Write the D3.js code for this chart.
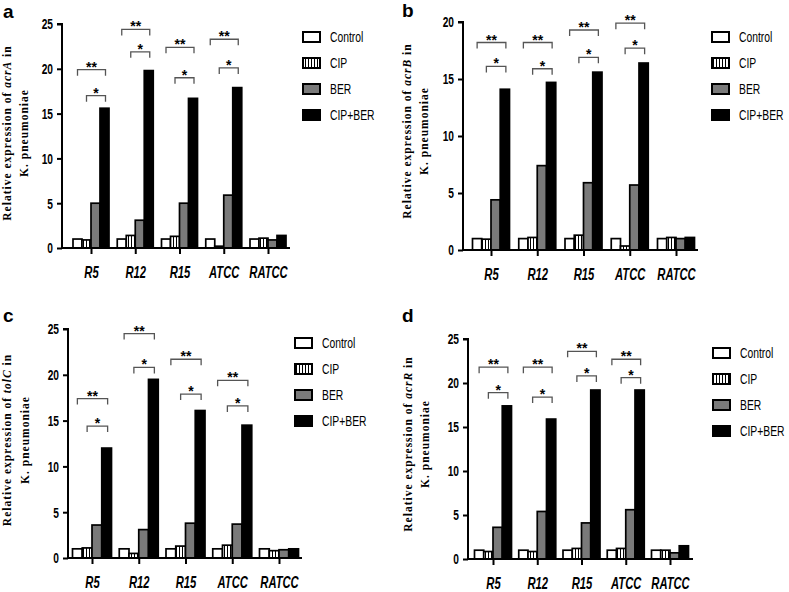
<!DOCTYPE html>
<html>
<head>
<meta charset="utf-8">
<script src="https://cdn.jsdelivr.net/npm/d3@7"></script>
<style>
  html, body { margin: 0; padding: 0; background: #fff; }
  svg { display: block; }
  .num { font-family: "Liberation Sans", Arial, sans-serif; font-weight: bold; fill: #000; }
  .star { font-family: "Liberation Sans", Arial, sans-serif; font-weight: bold; fill: #000; }
  .cat { font-family: "Liberation Sans", Arial, sans-serif; font-weight: bold; font-style: italic; fill: #000; }
  .leg { font-family: "Liberation Sans", Arial, sans-serif; fill: #000; }
  .ylab { font-family: "Liberation Serif", "DejaVu Serif", serif; font-weight: bold; fill: #000; }
  .letter { font-family: "Liberation Sans", Arial, sans-serif; font-weight: bold; fill: #000; }
</style>
</head>
<body>
<script>
// ---------- data ----------
const categories = ["R5", "R12", "R15", "ATCC", "RATCC"];
const seriesNames = ["Control", "CIP", "BER", "CIP+BER"];
const geneNames = ["acrA", "acrB", "tolC", "acrR"];
const panelLetters = ["a", "b", "c", "d"];
const yMaxes = [25, 20, 25, 25];
const yTickValues = [[0, 5, 10, 15, 20, 25], [0, 5, 10, 15, 20], [0, 5, 10, 15, 20, 25], [0, 5, 10, 15, 20, 25]];

// values per series (Control, CIP, BER, CIP+BER) for each category
const acrAValues = [
  [1.0, 1.0, 1.0, 1.0, 1.0],
  [0.9, 1.4, 1.3, 0.2, 1.1],
  [5.0, 3.1, 5.0, 5.9, 0.9],
  [15.6, 19.8, 16.7, 17.9, 1.4]
];
const acrBValues = [
  [1.0, 1.0, 1.0, 1.0, 1.0],
  [0.95, 1.1, 1.3, 0.35, 1.1],
  [4.4, 7.4, 5.9, 5.7, 1.0],
  [14.1, 14.7, 15.6, 16.4, 1.1]
];
const tolCValues = [
  [1.0, 1.0, 1.0, 1.0, 1.0],
  [1.1, 0.5, 1.3, 1.4, 0.8],
  [3.6, 3.1, 3.8, 3.7, 0.9],
  [12.0, 19.5, 16.1, 14.5, 1.0]
];
const acrRValues = [
  [1.0, 1.0, 1.0, 1.0, 1.0],
  [0.85, 0.85, 1.2, 1.2, 1.0],
  [3.6, 5.4, 4.1, 5.6, 0.7],
  [17.4, 15.9, 19.2, 19.2, 1.5]
];
// significance bracket heights (data units) for R5, R12, R15, ATCC
const acrADouble = [19.9, 24.4, 22.4, 23.3];
const acrASingle = [17.0, 21.9, 19.0, 20.1];
const acrBDouble = [18.2, 18.2, 19.3, 19.9];
const acrBSingle = [16.1, 15.9, 16.9, 17.7];
const tolCDouble = [17.4, 24.5, 21.7, 19.4];
const tolCSingle = [14.4, 20.8, 17.9, 16.6];
const acrRDouble = [21.8, 21.8, 23.6, 22.7];
const acrRSingle = [18.9, 18.4, 20.8, 20.6];

const panelValues = [acrAValues, acrBValues, tolCValues, acrRValues];
const panelDouble = [acrADouble, acrBDouble, tolCDouble, acrRDouble];
const panelSingle = [acrASingle, acrBSingle, tolCSingle, acrRSingle];

// ---------- layout ----------
const layouts = [
  {ox: 62, y0: 248, yTop: 24, xEnd: 290, c0: 91, c1: 268, gw: 36, legX: 303, legY: 37, lab1: 11, lab2: 28, labCY: 133, lx: 3, ly: 18},
  {ox: 463, y0: 250, yTop: 22, xEnd: 698, c0: 491, c1: 676, gw: 37, legX: 712, legY: 37, lab1: 411, lab2: 428, labCY: 131, lx: 402, ly: 17},
  {ox: 68, y0: 558, yTop: 329, xEnd: 302, c0: 92, c1: 279, gw: 39, legX: 295, legY: 343, lab1: 11, lab2: 29, labCY: 440, lx: 3, ly: 322},
  {ox: 468, y0: 559, yTop: 339, xEnd: 693, c0: 493, c1: 670, gw: 37, legX: 713, legY: 353, lab1: 412, lab2: 429, labCY: 444, lx: 402, ly: 322}
];
const fills = ["#ffffff", "url(#stripes)", "#7a7a7a", "#000000"];
const NUM_SQ = 0.68, CAT_SQ = 0.66, LEG_SQ = 0.74;

const svg = d3.select("body").append("svg").attr("width", 789).attr("height", 592);
const defs = svg.append("defs");
const pat = defs.append("pattern").attr("id", "stripes").attr("patternUnits", "userSpaceOnUse")
  .attr("width", 3).attr("height", 10);
pat.append("rect").attr("width", 3).attr("height", 10).attr("fill", "#fff");
pat.append("rect").attr("x", 2).attr("width", 1.1).attr("height", 10).attr("fill", "#000");

panelValues.forEach((vals, p) => {
  const L = layouts[p];
  const g = svg.append("g");
  const x = d3.scalePoint().domain(categories).range([L.c0, L.c1]);
  const xs = d3.scaleBand().domain(seriesNames).range([-L.gw / 2, L.gw / 2]).padding(0);
  const y = d3.scaleLinear().domain([0, yMaxes[p]]).range([L.y0, L.yTop]);

  // bars
  seriesNames.forEach((s, si) => {
    g.selectAll(null).data(categories).enter().append("rect")
      .attr("x", c => x(c) + xs(s))
      .attr("y", (c, ci) => y(vals[si][ci]))
      .attr("width", xs.bandwidth())
      .attr("height", (c, ci) => L.y0 - y(vals[si][ci]))
      .attr("fill", fills[si])
      .attr("stroke", "#000").attr("stroke-width", 1.7);
  });

  // y axis
  const ya = g.append("g").attr("transform", `translate(${L.ox},0)`)
    .call(d3.axisLeft(y).tickValues(yTickValues[p]).tickSize(5).tickPadding(4).tickFormat(d3.format("d")));
  ya.select(".domain").attr("stroke-width", 2).attr("d", `M-5,${L.yTop}H0V${L.y0}`);
  ya.selectAll(".tick line").attr("stroke-width", 2);
  ya.selectAll(".tick text").attr("class", "num").attr("font-size", 15)
    .attr("x", -9 / NUM_SQ).attr("transform", `scale(${NUM_SQ},1)`);

  // x axis
  const xa = g.append("g").attr("transform", `translate(0,${L.y0})`)
    .call(d3.axisBottom(x).tickSize(6).tickPadding(12));
  xa.select(".domain").attr("stroke-width", 2).attr("d", `M${L.ox},0H${L.xEnd}`);
  xa.selectAll(".tick line").attr("stroke-width", 2);
  xa.selectAll(".tick text").attr("class", "cat").attr("font-size", 17)
    .attr("transform", `scale(${CAT_SQ},1)`);

  // brackets
  const brackets = [];
  panelDouble[p].forEach((h, ci) => brackets.push({c: categories[ci], from: 0, to: 3, h: h, label: "**"}));
  panelSingle[p].forEach((h, ci) => brackets.push({c: categories[ci], from: 1, to: 3, h: h, label: "*"}));
  brackets.forEach(b => {
    const xa0 = x(b.c) + xs(seriesNames[b.from]) + xs.bandwidth() / 2;
    const xa1 = x(b.c) + xs(seriesNames[b.to]) + xs.bandwidth() / 2 + 1;
    const yy = y(b.h);
    g.append("path").attr("d", `M${xa0},${yy + 6}V${yy}H${xa1}V${yy + 6}`)
      .attr("fill", "none").attr("stroke", "#555").attr("stroke-width", 1.3);
    g.append("text").attr("class", "star").attr("x", (xa0 + xa1) / 2).attr("y", yy + 2)
      .attr("text-anchor", "middle").attr("font-size", 14).text(b.label);
  });

  // legend
  seriesNames.forEach((s, si) => {
    const ly = L.legY + si * 26;
    g.append("rect").attr("x", L.legX).attr("y", ly - 5).attr("width", 17).attr("height", 10)
      .attr("fill", fills[si]).attr("stroke", "#000").attr("stroke-width", 2);
    g.append("g").attr("transform", `translate(${L.legX + 27},${ly + 5}) scale(${LEG_SQ},1)`)
      .append("text").attr("class", "leg").attr("font-size", 14).text(s);
  });

  // y label
  const lab = g.append("text").attr("class", "ylab").attr("font-size", 11.5).attr("letter-spacing", 1)
    .attr("text-anchor", "middle").attr("transform", `translate(${L.lab1},${L.labCY}) rotate(-90)`);
  lab.append("tspan").text("Relative expression of  ");
  lab.append("tspan").attr("font-style", "italic").text(geneNames[p]);
  lab.append("tspan").text(" in");
  g.append("text").attr("class", "ylab").attr("font-size", 11.5).attr("letter-spacing", 1)
    .attr("text-anchor", "middle").attr("transform", `translate(${L.lab2},${L.labCY}) rotate(-90)`)
    .text("K. pneumoniae");

  // panel letter
  g.append("text").attr("class", "letter").attr("x", L.lx).attr("y", L.ly).attr("font-size", 19).text(panelLetters[p]);
});
</script>
</body>
</html>
